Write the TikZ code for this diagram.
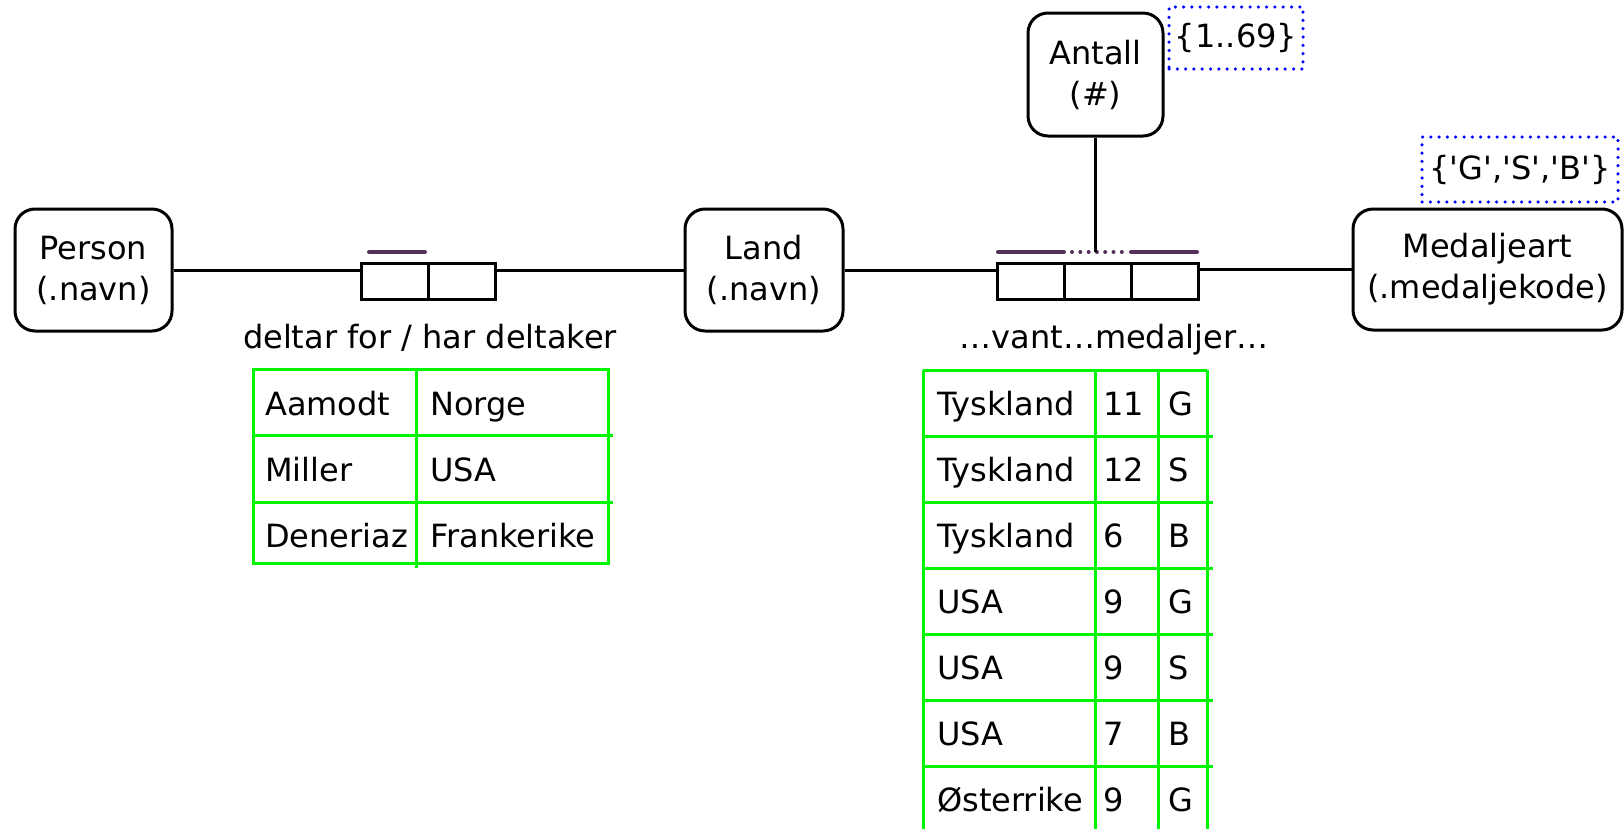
\documentclass[tikz,border=0pt]{standalone}
\usepackage{fontspec}
\setmainfont{DejaVu Sans}

\begin{document}
\begin{tikzpicture}[x=1pt,y=1pt,yscale=-1,xscale=1,
        font=\fontsize{32}{41}\selectfont,
        entity/.style={draw, line width=3, rounded corners=20, align=center, inner sep=0},
        relcell/.style={draw, line width=3, minimum width=67, minimum height=36, inner sep=0},
        link/.style={line width=3},
        uniq/.style={color={rgb, 255:red, 85; green, 50; blue, 90 }, line width=4, line cap=round},
        valueset/.style={draw={rgb, 255:red, 0; green, 0; blue, 255 }, line width=3.5, line cap=round, dash pattern=on 0pt off 8.3pt, inner sep=0},
        grid/.style={draw={rgb, 255:red, 0; green, 245; blue, 0 }, line width=3},
        celltext/.style={anchor=base west, inner sep=0}]
        \useasboundingbox (0,0) rectangle (1624,828);
        % entities
        \node[entity, minimum width=157, minimum height=122] (person) at (93.5,270) {Person\\(.navn)};
        \node[entity, minimum width=158, minimum height=122] (land) at (764,270) {Land\\(.navn)};
        \node[entity, minimum width=135, minimum height=123] (antall) at (1095.5,74.5) {Antall\\(\#)};
        \node[entity, minimum width=269, minimum height=121] (medalje) at (1487.5,269.5) {Medaljeart\\(.medaljekode)};
        % value sets
        \node[valueset, minimum width=134, minimum height=62] (antdom) at (1236,38) {\{1..69\}};
        \node[valueset, minimum width=196, minimum height=65] (meddom) at (1520,169.5) {\{\textquotesingle G\textquotesingle,\textquotesingle S\textquotesingle,\textquotesingle B\textquotesingle\}};
        % fact types
        \node[relcell] (delA) at (394.5,281) {};
        \node[relcell] (delB) at (461.5,281) {};
        \node[relcell] (vantA) at (1031,281) {};
        \node[relcell] (vantB) at (1098,281) {};
        \node[relcell] (vantC) at (1164.5,281) {};
        \node[anchor=base] (dellabel) at (430,348) {deltar for / har deltaker};
        \node[anchor=base] (vantlabel) at (1114,348) {…vant…medaljer…};
        % uniqueness bars
        \coordinate (vantbar) at (1098,252);
        \draw[uniq] (369,252) -- (425,252);
        \draw[uniq] (998,252) -- (1064,252);
        \draw[uniq, dash pattern=on 0pt off 8.3pt] (1072,252) -- (1124,252);
        \draw[uniq] (1131,252) -- (1197,252);
        % roles
        \draw[link] (person.east) -- (person.east -| delA.west);
        \draw[link] (delB.east |- land.west) -- (land.west);
        \draw[link] (land.east) -- (land.east -| vantA.west);
        \draw[link] (vantC.east |- medalje.west) -- (medalje.west);
        \draw[link] (antall.south) -- (antall.south |- vantbar);
        % population deltar for
        \draw[grid] (253,369) rectangle (608,563);
        \draw[grid] (416,369) -- (416,568);
        \draw[grid] (253,435) -- (613,435);
        \draw[grid] (253,502) -- (613,502);
        \node[celltext] (p1) at (265,415) {Aamodt};
        \node[celltext] (p2) at (265,481) {Miller};
        \node[celltext] (p3) at (265,547) {Deneriaz};
        \node[celltext] (l1) at (430,415) {Norge};
        \node[celltext] (l2) at (430,481) {USA};
        \node[celltext] (l3) at (430,547) {Frankerike};
        % population vant
        \draw[grid] (923,370) -- (1207,370);
        \draw[grid] (923,436) -- (1213,436);
        \draw[grid] (923,502) -- (1213,502);
        \draw[grid] (923,568) -- (1213,568);
        \draw[grid] (923,634) -- (1213,634);
        \draw[grid] (923,700) -- (1213,700);
        \draw[grid] (923,766) -- (1213,766);
        \draw[grid] (923,370) -- (923,840);
        \draw[grid] (1095,370) -- (1095,840);
        \draw[grid] (1158,370) -- (1158,840);
        \draw[grid] (1207,370) -- (1207,840);
        \node[celltext] (v1) at (937,415) {Tyskland};
        \node[celltext] (v2) at (937,481) {Tyskland};
        \node[celltext] (v3) at (937,547) {Tyskland};
        \node[celltext] (v4) at (937,613) {USA};
        \node[celltext] (v5) at (937,679) {USA};
        \node[celltext] (v6) at (937,745) {USA};
        \node[celltext] (v7) at (937,811) {Østerrike};
        \node[celltext] (n1) at (1103,415) {11};
        \node[celltext] (n2) at (1103,481) {12};
        \node[celltext] (n3) at (1103,547) {6};
        \node[celltext] (n4) at (1103,613) {9};
        \node[celltext] (n5) at (1103,679) {9};
        \node[celltext] (n6) at (1103,745) {7};
        \node[celltext] (n7) at (1103,811) {9};
        \node[celltext] (m1) at (1168,415) {G};
        \node[celltext] (m2) at (1168,481) {S};
        \node[celltext] (m3) at (1168,547) {B};
        \node[celltext] (m4) at (1168,613) {G};
        \node[celltext] (m5) at (1168,679) {S};
        \node[celltext] (m6) at (1168,745) {B};
        \node[celltext] (m7) at (1168,811) {G};
\end{tikzpicture}
\end{document}
